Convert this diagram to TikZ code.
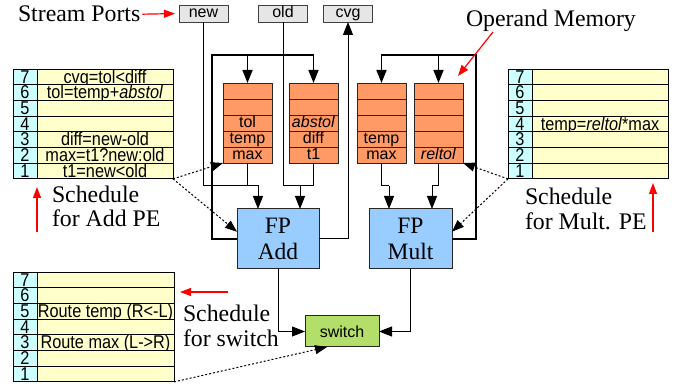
\documentclass[tikz,border=0pt]{standalone}
\usepackage{fontspec}
\setmainfont{Liberation Serif}
\setsansfont{Liberation Sans}
\newfontfamily\tabfont[FakeStretch=0.88]{Liberation Sans}
\usetikzlibrary{arrows.meta,calc}
\definecolor{memorange}{RGB}{255,153,102}
\definecolor{fpblue}{RGB}{153,204,255}
\definecolor{swgreen}{RGB}{179,222,105}
\definecolor{tabyellow}{RGB}{255,255,204}
\definecolor{tabcyan}{RGB}{204,255,255}
\definecolor{portgray}{RGB}{230,230,230}
\tikzset{
  every node/.style={inner sep=0pt, outer sep=0pt},
  port/.style={draw=black!75, fill=portgray, line width=0.8pt, minimum width=49pt, minimum height=17pt,
    font=\sffamily\fontsize{16}{16}\selectfont, text height=11.5pt, text depth=3pt},
  memcell/.style={draw=black!85, fill=memorange, line width=0.8pt, minimum width=49pt, minimum height=16pt,
    anchor=north west, font=\sffamily\fontsize{16}{16}\selectfont, text height=12pt, text depth=3pt},
  numcell/.style={draw=black, fill=tabcyan, line width=0.9pt, minimum width=24pt, minimum height=15.7pt,
    anchor=north west, font=\tabfont\fontsize{18.5}{18.5}\selectfont, text height=13.5pt, text depth=1pt},
  concell/.style={draw=black, fill=tabyellow, line width=0.9pt, minimum width=136pt, minimum height=15.7pt,
    anchor=north west, font=\tabfont\fontsize{18.5}{18.5}\selectfont, text height=13.5pt, text depth=1pt},
  fpbox/.style={draw=black!85, fill=fpblue, line width=1pt, minimum width=82pt, minimum height=60pt,
    align=center, font=\fontsize{23.5}{26}\selectfont},
  swbox/.style={draw=black!85, fill=swgreen, line width=1pt, minimum width=74pt, minimum height=31pt,
    font=\sffamily\fontsize{16}{16}\selectfont},
  lab/.style={anchor=base west, font=\fontsize{23.8}{25}\selectfont},
  conn/.style={draw=black, line width=1pt},
  fb/.style={draw=black, line width=1.6pt},
  arr/.style={-{Triangle[length=13pt,width=10pt]}},
  dotarr/.style={draw=black, line width=1pt, dash pattern=on 2pt off 2pt, -{Triangle[length=12pt,width=9pt]}},
  redarr/.style={draw=red, line width=1.2pt, -{Triangle[length=11pt,width=8pt]}},
}
\begin{document}
\begin{tikzpicture}[x=1pt,y=-1pt]
\useasboundingbox (0,0) rectangle (678,387);

% stream ports
\node[port] (new) at (203.5,13.5) {new};
\node[port] (old) at (283,13.5) {old};
\node[port] (cvg) at (348,13.5) {cvg};

% labels
\node[lab] (sp) at (18,22) {Stream Ports};
\node[lab] (om) at (466,27) {Operand Memory};
\node[lab] (sa1) at (52,203) {Schedule};
\node[lab] (sa2) at (52,227) {for Add PE};
\node[lab] (sm1) at (525,205) {Schedule};
\node[lab] (sm2) at (525,230) {for Mult. PE};
\node[lab] (ss1) at (183,322) {Schedule};
\node[lab] (ss2) at (183,347) {for switch};

% operand memories
\foreach \i/\t in {1/{},2/{},3/tol,4/temp,5/max}
  \node[memcell] (mA\i) at (223,{83+(\i-1)*16}) {\t};
\foreach \i/\t in {1/{},2/{},3/{\textit{abstol}},4/diff,5/t1}
  \node[memcell] (mB\i) at (289,{83+(\i-1)*16}) {\t};
\foreach \i/\t in {1/{},2/{},3/{},4/temp,5/max}
  \node[memcell] (mC\i) at (357,{83+(\i-1)*16}) {\t};
\foreach \i/\t in {1/{},2/{},3/{},4/{},5/{\textit{reltol}}}
  \node[memcell] (mD\i) at (414,{83+(\i-1)*16}) {\t};

% PEs and switch
\node[fpbox] (add) at (278,239) {FP\\Add};
\node[fpbox, minimum width=83pt] (mult) at (410.5,239) {FP\\Mult};
\node[swbox] (switch) at (342,331.5) {switch};

% schedule tables
\foreach \i/\t in {7/{cvg=tol<diff},6/{tol=temp+\textit{abstol}},5/{},4/{},3/{diff=new-old},2/{max=t1?new:old},1/{t1=new<old}} {
  \node[numcell] (an\i) at (13,{69+(7-\i)*15.7}) {\i};
  \node[concell] (ac\i) at (37,{69+(7-\i)*15.7}) {\t};
}
\foreach \i/\t in {7/{},6/{},5/{},4/{temp=\textit{reltol}*max},3/{},2/{},1/{}} {
  \node[numcell] (mn\i) at (508,{69+(7-\i)*15.7}) {\i};
  \node[concell] (mc\i) at (532,{69+(7-\i)*15.7}) {\t};
}
\foreach \i/\t in {7/{},6/{},5/{Route temp (R<-L)},4/{},3/{Route max (L->R)},2/{},1/{}} {
  \node[numcell] (sn\i) at (13,{272+(7-\i)*15.7}) {\i};
  \node[concell, minimum width=137pt] (sc\i) at (37,{272+(7-\i)*15.7}) {\t};
}

% junctions
\coordinate (jA) at (258,186);
\coordinate (jB) at (300,186);
\coordinate (jC) at (389,186);
\coordinate (jD) at (432,186);
\coordinate (fbA) at (212,55);
\coordinate (fbM) at (476,55);

% Add inputs
\draw[conn] (mA5.south) |- (jA);
\draw[conn, arr] (new.south) |- (jA) -- (jA |- add.north);
\draw[conn] (mB5.south) |- (jB);
\draw[conn, arr] (old.south) |- (jB) -- (jB |- add.north);
% Mult inputs
\draw[conn] (mC5.south) |- (jC);
\draw[conn, arr] (jC) -- (jC |- mult.north);
\draw[conn] (mD5.south) |- (jD);
\draw[conn, arr] (jD) -- (jD |- mult.north);

% feedback loops
\draw[fb, arr] (add.west) -| (fbA) -| (mB1.north);
\draw[fb, arr] (mA1.north |- fbA) -- (mA1.north);
\draw[fb, arr] (mult.east) -| (fbM) -| (mC1.north);
\draw[fb, arr] (mD1.north |- fbM) -- (mD1.north);

% outputs
\draw[conn, arr] (add.east) -| (cvg.south);
\draw[conn, arr] (add.south) |- (switch.west);
\draw[conn, arr] (mult.south) |- (switch.east);

% schedule (dotted) links
\draw[dotarr] (ac1.south east) -- (mA5.south west);
\draw[dotarr] (ac1.south east) -- (add.170);
\draw[dotarr] (mn1.south west) -- (mD5.south east);
\draw[dotarr] (mn1.south west) -- (mult.10);
\draw[dotarr] (sc1.south east) -- (switch.226);

% red pointer arrows
\draw[redarr, shorten <=2pt, shorten >=4pt] (sp.east) -- (new.west);
\coordinate (ra1) at (37,232);
\coordinate (ra2) at (37,187);
\draw[redarr] (ra1) -- (ra2);
\coordinate (rm1) at (653,232);
\coordinate (rm2) at (653,183);
\draw[redarr] (rm1) -- (rm2);
\coordinate (rs1) at (228,292);
\coordinate (rs2) at (180,292);
\draw[redarr] (rs1) -- (rs2);
\coordinate (ro1) at (493,32);
\coordinate (ro2) at (458,76);
\draw[redarr] (ro1) -- (ro2);
\end{tikzpicture}
\end{document}
